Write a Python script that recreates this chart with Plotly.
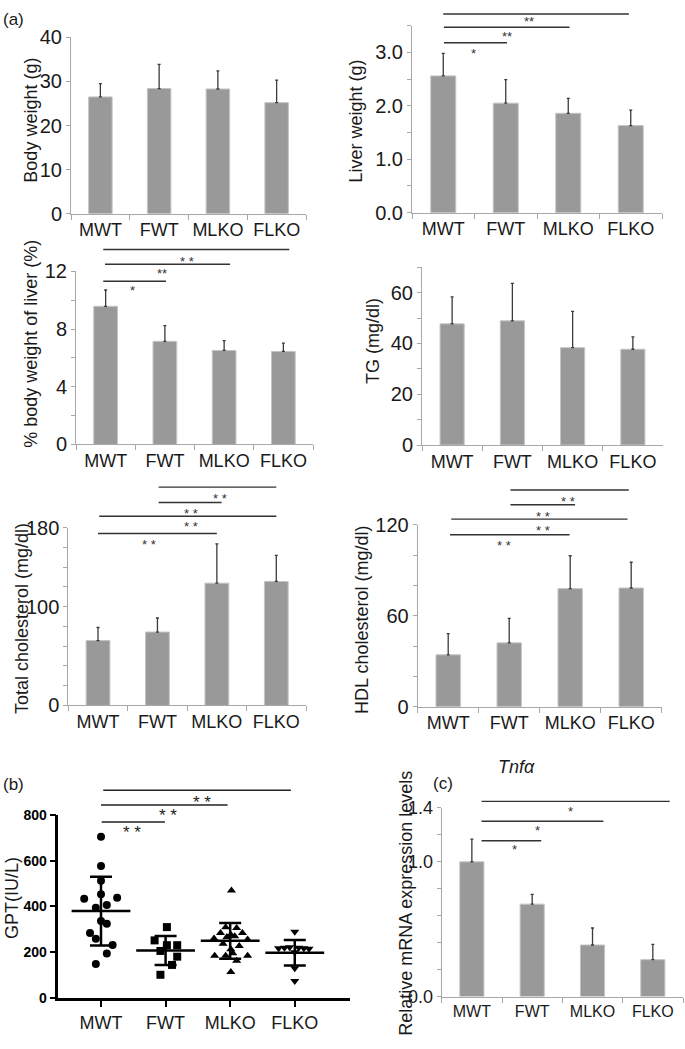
import plotly.graph_objects as go

W, H = 685, 1049
FONT = "Liberation Sans, Arial, sans-serif"
GRAY = "#a8a8a8"
TXT = "#1a1a1a"

# ---------------- data ----------------
groups = ["MWT", "FWT", "MLKO", "FLKO"]

body_weight = [26.5, 28.4, 28.3, 25.2]
body_weight_sd = [3.0, 5.5, 4.1, 5.1]

liver_weight = [2.56, 2.05, 1.86, 1.63]
liver_weight_sd = [0.42, 0.44, 0.28, 0.29]

liver_pct = [9.58, 7.15, 6.52, 6.45]
liver_pct_sd = [1.13, 1.09, 0.68, 0.57]

tg = [47.7, 48.9, 38.3, 37.7]
tg_sd = [10.6, 14.7, 14.3, 4.9]

total_chol = [65.7, 74.3, 123.8, 125.5]
total_chol_sd = [13.2, 14.2, 39.7, 26.4]

hdl_chol = [34.3, 42.2, 78.0, 78.4]
hdl_chol_sd = [14.0, 16.2, 21.7, 17.0]

tnfa = [1.0, 0.686, 0.383, 0.274]
tnfa_sd = [0.168, 0.072, 0.126, 0.114]

gpt_mwt = [704, 576, 512, 453, 434, 438, 394, 406, 337, 325, 284, 259, 232, 195, 149]
gpt_mwt_jitter = [0.0, 0.0, 0.0, 0.0, -0.26, 0.25, -0.08, 0.09, 0.0, 0.09, -0.17, -0.08, 0.18, 0.09, -0.08]
gpt_fwt = [310, 252, 231, 231, 206, 181, 145, 102]
gpt_fwt_jitter = [0.02, -0.17, 0.02, 0.18, -0.08, 0.18, 0.10, -0.08]
gpt_mlko = [470, 309, 306, 284, 277, 284, 260, 267, 270, 256, 237, 228, 213, 196, 185, 185, 185, 163, 114]
gpt_mlko_jitter = [0.02, -0.07, 0.10, -0.15, 0.01, 0.19, -0.25, -0.05, 0.07, 0.27, -0.11, 0.14, 0.01, 0.04, -0.24, -0.07, 0.27, 0.10, 0.01]
gpt_flko = [290, 218, 220, 222, 220, 218, 215, 200, 130, 75]
gpt_flko_jitter = [0.0, -0.25, -0.16, -0.08, 0.06, 0.14, 0.22, 0.0, 0.0, 0.0]
gpt_mean = [380, 208, 250, 198]
gpt_sd = [150, 63, 78, 56]

# ---------------- helpers ----------------
fig = go.Figure()
layout = {}
shapes = []
annotations = []


def dom_x(a, b):
    return [a / W, b / W]


def dom_y(top, bottom):
    return [1 - bottom / H, 1 - top / H]


def ax_ids(i):
    s = "" if i == 1 else str(i)
    return "x" + s, "y" + s, "xaxis" + s, "yaxis" + s


def add_title(text, cx, cy, size=18, angle=-90, italic=False):
    annotations.append(dict(
        xref="paper", yref="paper", x=cx / W, y=1 - cy / H,
        text=("<i>%s</i>" % text) if italic else text,
        showarrow=False, textangle=angle, xanchor="center", yanchor="middle",
        font=dict(family=FONT, size=size, color=TXT)))


def add_brackets(xa, ya, ymax, brackets, color="#333333", lw=1.4, size=13, yshift=-3.5):
    for x0, x1, yv, lab, lx, ly in brackets:
        shapes.append(dict(type="line", xref=xa, yref=ya + " domain",
                           x0=x0, x1=x1, y0=yv / ymax, y1=yv / ymax,
                           line=dict(color=color, width=lw)))
        annotations.append(dict(xref=xa, yref=ya + " domain", x=lx, y=ly / ymax,
                                text=lab, showarrow=False, xanchor="center",
                                yanchor="middle", yshift=yshift,
                                font=dict(family=FONT, size=size, color=color)))


def add_bar_panel(i, vals, sds, xpx, ypx, yrange, tickvals, ticktext,
                  xfont=18, yfont=20):
    xa, ya, xk, yk = ax_ids(i)
    fig.add_trace(go.Bar(
        x=groups, y=vals, width=0.4,
        marker=dict(color="#999999", line=dict(color="#c4c4c4", width=1)),
        error_y=dict(type="data", array=sds, arrayminus=[0] * len(sds),
                     symmetric=False, color="#3a3a3a", thickness=1.3, width=1.5),
        xaxis=xa, yaxis=ya, showlegend=False, hoverinfo="skip"))
    layout[xk] = dict(domain=dom_x(*xpx), anchor=ya, type="category",
                      range=[-0.5, 3.5], showline=True, linecolor=GRAY, linewidth=1,
                      ticks="outside", tickson="boundaries", ticklen=5,
                      tickcolor=GRAY, tickwidth=1, tickangle=0,
                      tickfont=dict(family=FONT, size=xfont, color=TXT),
                      showgrid=False, zeroline=False, fixedrange=True)
    layout[yk] = dict(domain=dom_y(*ypx), anchor=xa, range=yrange,
                      tickmode="array", tickvals=tickvals, ticktext=ticktext,
                      showline=True, linecolor=GRAY, linewidth=1,
                      ticks="outside", ticklen=4, tickcolor=GRAY, tickwidth=1,
                      tickfont=dict(family=FONT, size=yfont, color=TXT),
                      showgrid=False, zeroline=False, fixedrange=True)
    return xa, ya


# ---------------- panel (a) ----------------
add_bar_panel(1, body_weight, body_weight_sd, (71, 306), (27, 207), [0, 40],
              [0, 10, 20, 30, 40], ["0", "10", "20", "30", "40"])
add_title("Body weight (g)", 31, 112)

xa, ya = add_bar_panel(2, liver_weight, liver_weight_sd, (412, 662), (15, 206), [0, 3.5],
                       [0, 0.5, 1, 1.5, 2, 2.5, 3, 3.5],
                       ["0.0", "", "1.0", "", "2.0", "", "3.0", ""])
add_title("Liver weight (g)", 356, 113)
add_brackets(xa, ya, 3.5, [
    (0.01, 1.02, 3.18, "*", 0.476, 3.04),
    (0.01, 2.02, 3.47, "**", 1.02, 3.37),
    (0.0, 2.97, 3.72, "**", 1.37, 3.65),
])

xa, ya = add_bar_panel(3, liver_pct, liver_pct_sd, (76, 313), (266, 442.7), [0, 12],
                       [0, 2, 4, 6, 8, 10, 12], ["0", "", "4", "", "8", "", "12"])
add_title("% body weight of liver (%)", 31, 340)
add_brackets(xa, ya, 12, [
    (-0.04, 1.02, 11.32, "*", 0.46, 10.9),
    (-0.01, 2.1, 12.5, "**", 0.95, 12.07),
    (-0.04, 3.1, 13.52, "* *", 1.37, 12.95),
])

add_bar_panel(4, tg, tg_sd, (422, 663), (261.7, 443.3), [0, 70],
              [0, 10, 20, 30, 40, 50, 60, 70], ["0", "", "20", "", "40", "", "60", ""])
add_title("TG (mg/dl)", 373, 337)

xa, ya = add_bar_panel(5, total_chol, total_chol_sd, (68.3, 306), (527.7, 709.3), [0, 180],
                       list(range(0, 181, 20)),
                       ["0", "", "", "", "", "100", "", "", "", "180"])
add_title("Total cholesterol (mg/dl)", 22, 621)
add_brackets(xa, ya, 180, [
    (0.0, 2.0, 174, "* *", 0.86, 166.7),
    (0.02, 3.0, 191.5, "* *", 1.56, 184.3),
    (1.02, 2.08, 205.4, "* *", 1.57, 197.5),
    (1.02, 3.0, 221, "* *", 2.05, 213),
])

xa, ya = add_bar_panel(6, hdl_chol, hdl_chol_sd, (417.7, 661.7), (525, 710.7), [0, 120],
                       list(range(0, 121, 20)), ["0", "", "", "60", "", "", "120"])
add_title("HDL cholesterol (mg/dl)", 362, 622)
add_brackets(xa, ya, 120, [
    (0.03, 1.99, 113.6, "* *", 0.92, 108.8),
    (0.05, 2.94, 123.9, "* *", 1.55, 118.9),
    (1.02, 2.08, 133.4, "* *", 1.55, 128.2),
    (1.02, 2.96, 143.1, "* *", 1.97, 137.7),
])

# ---------------- panel (b) ----------------
xa, ya, xk, yk = ax_ids(7)
for k, (vals, jit, sym) in enumerate([
        (gpt_mwt, gpt_mwt_jitter, "circle"),
        (gpt_fwt, gpt_fwt_jitter, "square"),
        (gpt_mlko, gpt_mlko_jitter, "triangle-up"),
        (gpt_flko, gpt_flko_jitter, "triangle-down")]):
    fig.add_trace(go.Scatter(
        x=[k + j for j in jit], y=vals, mode="markers",
        marker=dict(symbol=sym, size=8, color="black"),
        xaxis=xa, yaxis=ya, showlegend=False, hoverinfo="skip", cliponaxis=False))
fig.add_trace(go.Scatter(
    x=list(range(len(groups))), y=gpt_mean, mode="markers",
    marker=dict(symbol="line-ew-open", size=42, color="black",
                line=dict(color="black", width=2.5)),
    error_y=dict(type="data", array=gpt_sd, color="black", thickness=2.5, width=11),
    xaxis=xa, yaxis=ya, showlegend=False, hoverinfo="skip", cliponaxis=False))
layout[xk] = dict(domain=dom_x(58.3, 350), anchor=ya, range=[-0.661, 3.855],
                  tickmode="array", tickvals=[0, 1, 2, 3], ticktext=groups,
                  showline=True, linecolor="black", linewidth=2.5,
                  ticks="outside", ticklen=6, tickwidth=2, tickcolor="black",
                  tickangle=0,
                  tickfont=dict(family=FONT, size=18, color=TXT),
                  showgrid=False, zeroline=False, fixedrange=True)
layout[yk] = dict(domain=dom_y(821, 1008.3), anchor=xa, range=[0, 800],
                  tickmode="array", tickvals=[0, 200, 400, 600, 800],
                  ticktext=["<b>%d</b>" % v for v in [0, 200, 400, 600, 800]],
                  showline=True, linecolor="black", linewidth=2.5,
                  ticks="outside", ticklen=6, tickwidth=2, tickcolor="black",
                  tickfont=dict(family=FONT, size=14, color="black"),
                  showgrid=False, zeroline=False, fixedrange=True)
add_title("GPT(IU/L)", 12, 906, size=18)
add_brackets(xa, ya, 800, [
    (0.01, 0.99, 768.6, "* *", 0.476, 740),
    (0.0, 1.96, 842.4, "* *", 1.042, 813.8),
    (0.035, 2.94, 906.5, "* *", 1.56, 872.3),
], color="#222222", lw=1.5, size=17, yshift=-4)

# ---------------- panel (c) ----------------
xa, ya = add_bar_panel(8, tnfa, tnfa_sd, (441.7, 683), (814, 1006.7), [0, 1.4],
                       [0, 0.2, 0.4, 0.6, 0.8, 1.0, 1.2, 1.4],
                       ["0.0", "", "", "", "", "1.0", "", "1.4"], xfont=16, yfont=18)
add_title("Relative mRNA expression levels", 406, 912)
add_brackets(xa, ya, 1.4, [
    (0.16, 1.15, 1.156, "*", 0.70, 1.115),
    (0.16, 2.18, 1.301, "*", 1.09, 1.26),
    (0.16, 3.28, 1.449, "*", 1.63, 1.40),
])
add_title("Tnfα", 516, 772, angle=0, italic=True)

# panel letters
add_title("(a)", 13, 9, angle=0, size=17)
add_title("(b)", 13, 790, angle=0, size=17)
add_title("(c)", 443, 789, angle=0, size=17)

layout.update(dict(
    width=W, height=H, margin=dict(l=0, r=0, t=0, b=0),
    paper_bgcolor="white", plot_bgcolor="white",
    font=dict(family=FONT, color=TXT),
    shapes=shapes, annotations=annotations, showlegend=False,
    bargap=0.6,
))
fig.update_layout(**layout)
fig.write_html(
    "out.html",
    config={"displayModeBar": False},
    post_script="document.body.style.margin='0';document.body.style.overflow='hidden';",
)
